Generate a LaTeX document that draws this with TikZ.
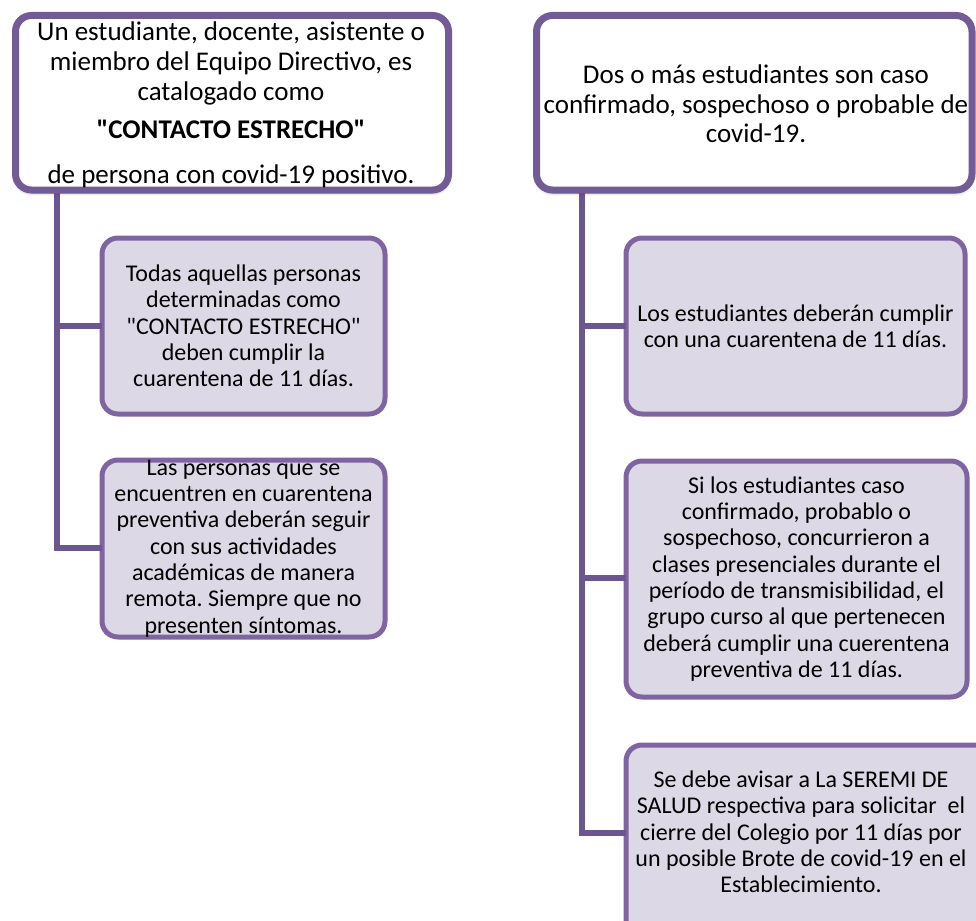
\documentclass[tikz,border=0pt]{standalone}
\usepackage{fontspec}
\setmainfont{Carlito}[Ligatures=TeXOff]
\usetikzlibrary{shadows.blur}
\definecolor{topborder}{HTML}{735C96}
\definecolor{subborder}{HTML}{8064A2}
\definecolor{subfill}{HTML}{DCD8E6}
\definecolor{linkcol}{HTML}{6C5690}
\frenchspacing
\tikzset{
  topbox/.style={draw=topborder, line width=7pt, fill=white, rounded corners=16pt,
    blur shadow={shadow xshift=0pt, shadow yshift=-3pt, shadow blur radius=3pt, shadow opacity=35}},
  subbox/.style={draw=subborder, line width=5pt, fill=subfill, rounded corners=16pt},
  link/.style={draw=linkcol, line width=5.5pt, line cap=butt, line join=miter},
  toptext/.style={align=center, font=\fontsize{27}{29.5}\selectfont, inner sep=0pt},
  subtext/.style={align=center, font=\fontsize{24}{26.3}\selectfont, inner sep=0pt},
}
\begin{document}
\begin{tikzpicture}[x=1pt,y=-1pt]
\useasboundingbox (0,0) rectangle (976,920);
\clip (0,0) rectangle (976,920);
% connectors
\coordinate (lv) at (57,188);
\coordinate (rv) at (582,188);
\coordinate (l1j) at (57,326);
\coordinate (l2j) at (57,548);
\coordinate (r1j) at (582,326);
\coordinate (r2j) at (582,578);
\coordinate (r3j) at (582,833);
\draw[link] (lv) -- ([yshift=2.75pt]l2j) ;
\draw[link] (rv) -- ([yshift=2.75pt]r3j);
% boxes
\draw[subbox] (102,238) rectangle (385,414);
\node[inner sep=0pt] (l1) at (243.5,326) {};
\draw[subbox] (102,460) rectangle (385,637);
\node[inner sep=0pt] (l2) at (243.5,548.5) {};
\draw[subbox] (626,238) rectangle (965,414);
\node[inner sep=0pt] (r1) at (795.5,326) {};
\draw[subbox] (626,461) rectangle (967,697);
\node[inner sep=0pt] (r2) at (796.5,579) {};
\draw[subbox] (626,745) rectangle (990,935);
\node[inner sep=0pt] (r3) at (801,833) {};
\draw[link] ([xshift=-2.75pt]l2j) -- (102,548);
\draw[link] (l1j) -- (102,326);
\draw[link] (r1j) -- (626,326);
\draw[link] (r2j) -- (626,578);
\draw[link] ([xshift=-2.75pt]r3j) -- (626,833);
% top boxes
\draw[topbox] (15.5,15.5) rectangle (448.5,190);
\draw[topbox] (536.5,15.5) rectangle (972,190);
% texts
\node[toptext, anchor=base] (tla) at (231,41) {Un estudiante, docente, asistente o};
\node[toptext, anchor=base] (tlb) at (231,71) {miembro del Equipo Directivo, es};
\node[toptext, anchor=base] (tlc) at (231,101) {catalogado como};
\node[toptext, anchor=base, font=\fontsize{27}{30}\bfseries] (tld) at (231,139) {"CONTACTO ESTRECHO"};
\node[toptext, anchor=base] (tle) at (231,183) {de persona con covid-19 positivo.};
\node[toptext] (tr) at (756,104) {Dos o más estudiantes son caso\\confirmado, sospechoso o probable de\\covid-19.};
\node[subtext] (l1t) at (l1) {Todas aquellas personas\\determinadas como\\"CONTACTO ESTRECHO"\\deben cumplir la\\cuarentena de 11 días.};
\node[subtext] (l2t) at (l2) {Las personas que se\\encuentren en cuarentena\\preventiva deberán seguir\\con sus actividades\\académicas de manera\\remota. Siempre que no\\presenten síntomas.};
\node[subtext] (r1t) at (r1) {Los estudiantes deberán cumplir\\con una cuarentena de 11 días.};
\node[subtext] (r2t) at (r2) {Si los estudiantes caso\\confirmado, probablo o\\sospechoso, concurrieron a\\clases presenciales durante el\\período de transmisibilidad, el\\grupo curso al que pertenecen\\deberá cumplir una cuerentena\\preventiva de 11 días.};
\node[subtext] (r3t) at (801,832) {Se debe avisar a La SEREMI DE\\SALUD respectiva para solicitar\ \ el\\cierre del Colegio por 11 días por\\un posible Brote de covid-19 en el\\Establecimiento.};
\end{tikzpicture}
\end{document}
